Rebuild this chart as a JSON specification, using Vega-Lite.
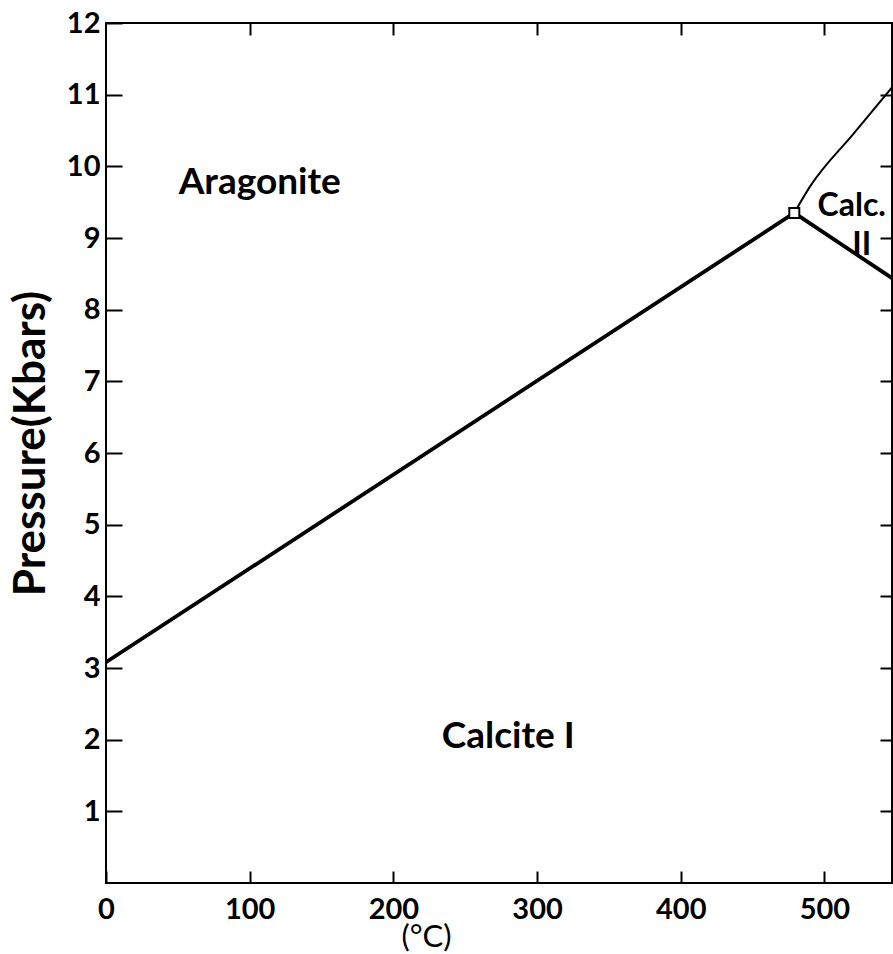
{
  "$schema": "https://vega.github.io/schema/vega-lite/v6.json",
  "autosize": "none",
  "width": 786,
  "height": 860,
  "padding": {"left": 106, "top": 23, "right": 1, "bottom": 71},
  "background": "white",
  "config": {
    "view": {"stroke": "black", "strokeWidth": 2},
    "font": "Lato",
    "axis": {"grid": false, "domain": false, "tickColor": "black", "tickWidth": 2, "labelColor": "black", "titleColor": "black", "labelFont": "Lato", "titleFont": "Lato"}
  },
  "datasets": {
    "lines": [
      {"boundary": "calcite I / aragonite", "T": 0, "P": 3.08},
      {"boundary": "calcite I / aragonite", "T": 479, "P": 9.35},
      {"boundary": "calcite I / calcite II", "T": 479, "P": 9.35},
      {"boundary": "calcite I / calcite II", "T": 547, "P": 8.44},
      {"boundary": "calcite II / aragonite", "T": 479, "P": 9.35},
      {"boundary": "calcite II / aragonite", "T": 490, "P": 9.72},
      {"boundary": "calcite II / aragonite", "T": 520, "P": 10.45},
      {"boundary": "calcite II / aragonite", "T": 547, "P": 11.1}
    ],
    "labels": [
      {"T": 107, "P": 9.77, "label": "Aragonite", "size": 37},
      {"T": 280, "P": 2.04, "label": "Calcite I", "size": 37},
      {"T": 519, "P": 9.44, "label": "Calc.", "size": 32},
      {"T": 526, "P": 8.9, "label": "II", "size": 32}
    ],
    "triple": [{"T": 479, "P": 9.35}]
  },
  "resolve": {"axis": {"x": "independent", "y": "independent"}},
  "layer": [
    {
      "data": {"name": "lines"},
      "transform": [{"filter": "datum.boundary !== 'calcite II / aragonite'"}],
      "mark": {"type": "line", "color": "black", "strokeWidth": 3.8, "clip": true},
      "encoding": {
        "x": {"field": "T", "type": "quantitative", "scale": {"domain": [0, 547], "nice": false, "zero": false},
          "axis": {"orient": "bottom", "values": [0, 100, 200, 300, 400, 500], "tickSize": -12, "labelPadding": 24, "labelFontSize": 29, "labelFontWeight": "bold", "labelFlush": false, "title": "(°C)", "titleFontSize": 31, "titleFontWeight": "normal", "titleX": 320, "titleY": 54, "titleBaseline": "middle"}},
        "y": {"field": "P", "type": "quantitative", "scale": {"domain": [0, 12], "nice": false},
          "axis": {"orient": "left", "values": [1, 2, 3, 4, 5, 6, 7, 8, 9, 10, 11, 12], "tickSize": -16, "labelPadding": 22, "labelFontSize": 29, "labelFontWeight": "bold", "labelFlush": false, "title": "Pressure(Kbars)", "titleFontSize": 44, "titleFontWeight": "bold", "titleX": -75, "titleY": 420, "titleBaseline": "middle", "titleAngle": -90}},
        "detail": {"field": "boundary"}
      }
    },
    {
      "data": {"name": "lines"},
      "transform": [{"filter": "datum.boundary === 'calcite II / aragonite'"}],
      "mark": {"type": "line", "color": "black", "strokeWidth": 2, "interpolate": "monotone", "clip": true},
      "encoding": {
        "x": {"field": "T", "type": "quantitative",
          "axis": {"orient": "top", "values": [100, 200, 300, 400, 500], "tickSize": -12, "labels": false, "title": null}},
        "y": {"field": "P", "type": "quantitative",
          "axis": {"orient": "right", "values": [1, 2, 3, 4, 5, 6, 7, 8, 9, 10, 11], "tickSize": -12, "labels": false, "title": null}}
      }
    },
    {
      "data": {"name": "triple"},
      "mark": {"type": "point", "shape": "square", "filled": true, "fill": "white", "opacity": 1, "stroke": "black", "strokeWidth": 2, "size": 100},
      "encoding": {
        "x": {"field": "T", "type": "quantitative", "axis": null},
        "y": {"field": "P", "type": "quantitative", "axis": null}
      }
    },
    {
      "data": {"name": "labels"},
      "mark": {"type": "text", "font": "Lato", "fontWeight": "bold", "color": "black", "align": "center", "baseline": "middle"},
      "encoding": {
        "x": {"field": "T", "type": "quantitative", "axis": null},
        "y": {"field": "P", "type": "quantitative", "axis": null},
        "text": {"field": "label"},
        "size": {"field": "size", "type": "quantitative", "scale": null, "legend": null}
      }
    }
  ]
}
